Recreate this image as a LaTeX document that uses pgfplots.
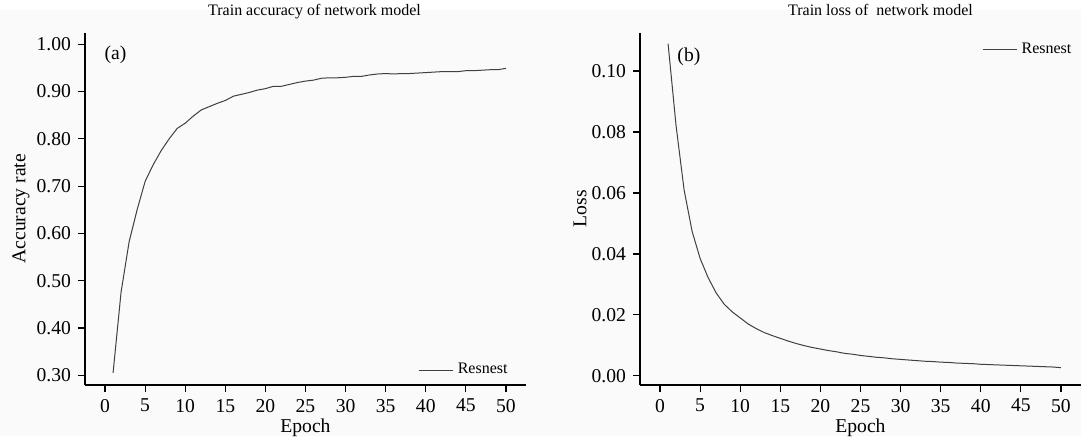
\documentclass[border=0pt]{standalone}
\usepackage{fontspec}
\setmainfont{Liberation Serif}
\usepackage{pgfplots}
\pgfplotsset{compat=1.18}
\definecolor{curve}{RGB}{64,64,64}
\definecolor{bgc}{RGB}{250,250,250}
\begin{document}
\begin{tikzpicture}
\fill[bgc] (-42.5pt,-25.5pt) rectangle (498pt,187.5pt);
\useasboundingbox (-42.5pt,-25.5pt) rectangle (498pt,192.5pt);
\pgfplotsset{
  myaxis/.style={
    scale only axis, width=220.5pt, height=176.2pt,
    axis x line=bottom, axis y line=left, axis line style={-, line width=0.7pt},
    xmin=-2.5, xmax=52.5, xtick={0,5,...,50},
    tick align=outside, major tick length=3.5pt,
    tick style={line width=0.6pt, black},
    /pgf/number format/assume math mode=true,
    tick label style={font=\fontsize{9.8}{11}\selectfont},
    label style={font=\fontsize{9.8}{11}\selectfont},
    title style={font=\fontsize{8}{9.6}\selectfont, at={(axis description cs:0.5,1)}, anchor=base, yshift=2.6pt},
    legend style={draw=none, fill=none, font=\fontsize{8}{9.6}\selectfont},
    xlabel={Epoch},
    xlabel style={at={(axis description cs:0.5,-0.1335)}, anchor=base, inner sep=0pt},
  }
}
\begin{axis}[myaxis, at={(0pt,0pt)}, anchor=south west,
  ymin=0.2795, ymax=1.0245,
  ytick={0.3,0.4,0.5,0.6,0.7,0.8,0.9,1.0},
  yticklabel style={/pgf/number format/.cd, fixed, fixed zerofill, precision=2},
  ylabel={Accuracy rate},
  ylabel style={at={(axis description cs:-0.145,0.5)}, anchor=center},
  title={Train accuracy of network model},
  title style={xshift=4.5pt},
  legend style={at={(axis cs:51.5,0.311)}, anchor=east},
]
\addplot[curve, line width=0.5pt] coordinates {
(1,0.305) (2,0.476) (3,0.582) (4,0.650) (5,0.710) (6,0.745) (7,0.775) (8,0.800) (9,0.822) (10,0.833)
(11,0.848) (12,0.861) (13,0.868) (14,0.875) (15,0.881) (16,0.890) (17,0.894) (18,0.898) (19,0.903) (20,0.906)
(21,0.911) (22,0.911) (23,0.915) (24,0.919) (25,0.922) (26,0.924) (27,0.928) (28,0.929) (29,0.929) (30,0.930)
(31,0.932) (32,0.932) (33,0.935) (34,0.937) (35,0.938) (36,0.937) (37,0.938) (38,0.938) (39,0.939) (40,0.940)
(41,0.941) (42,0.942) (43,0.942) (44,0.942) (45,0.944) (46,0.944) (47,0.945) (48,0.946) (49,0.946) (50,0.949)
};
\addlegendentry{Resnest}
\node[font=\fontsize{9.8}{11}\selectfont] at (axis cs:1.3,0.977) {(a)};
\end{axis}
\begin{axis}[myaxis, at={(277.5pt,0pt)}, anchor=south west,
  ymin=-0.003, ymax=0.1126,
  ytick={0,0.02,0.04,0.06,0.08,0.10},
  yticklabel style={/pgf/number format/.cd, fixed, fixed zerofill, precision=2},
  ylabel={Loss},
  ylabel style={at={(axis description cs:-0.136,0.5)}, anchor=center},
  title={Train loss of\ \ network model},
  title style={xshift=10pt},
  legend style={at={(axis cs:52.6,0.107)}, anchor=east},
]
\addplot[curve, line width=0.5pt] coordinates {
(1,0.109) (2,0.082) (3,0.061) (4,0.0474) (5,0.0385) (6,0.0322) (7,0.0272) (8,0.0235) (9,0.0210) (10,0.0190)
(11,0.0170) (12,0.0155) (13,0.0142) (14,0.0132) (15,0.0123) (16,0.0114) (17,0.0106) (18,0.0099) (19,0.0093) (20,0.0088)
(21,0.0083) (22,0.0079) (23,0.0074) (24,0.0071) (25,0.0067) (26,0.0064) (27,0.0061) (28,0.0059) (29,0.0056) (30,0.0054)
(31,0.0052) (32,0.0050) (33,0.0048) (34,0.0047) (35,0.0045) (36,0.0044) (37,0.0042) (38,0.0041) (39,0.0040) (40,0.0038)
(41,0.0037) (42,0.0036) (43,0.0035) (44,0.0034) (45,0.0033) (46,0.0032) (47,0.0031) (48,0.0030) (49,0.0029) (50,0.0027)
};
\addlegendentry{Resnest}
\node[font=\fontsize{9.8}{11}\selectfont] at (axis cs:3.6,0.1046) {(b)};
\end{axis}
\end{tikzpicture}
\end{document}
